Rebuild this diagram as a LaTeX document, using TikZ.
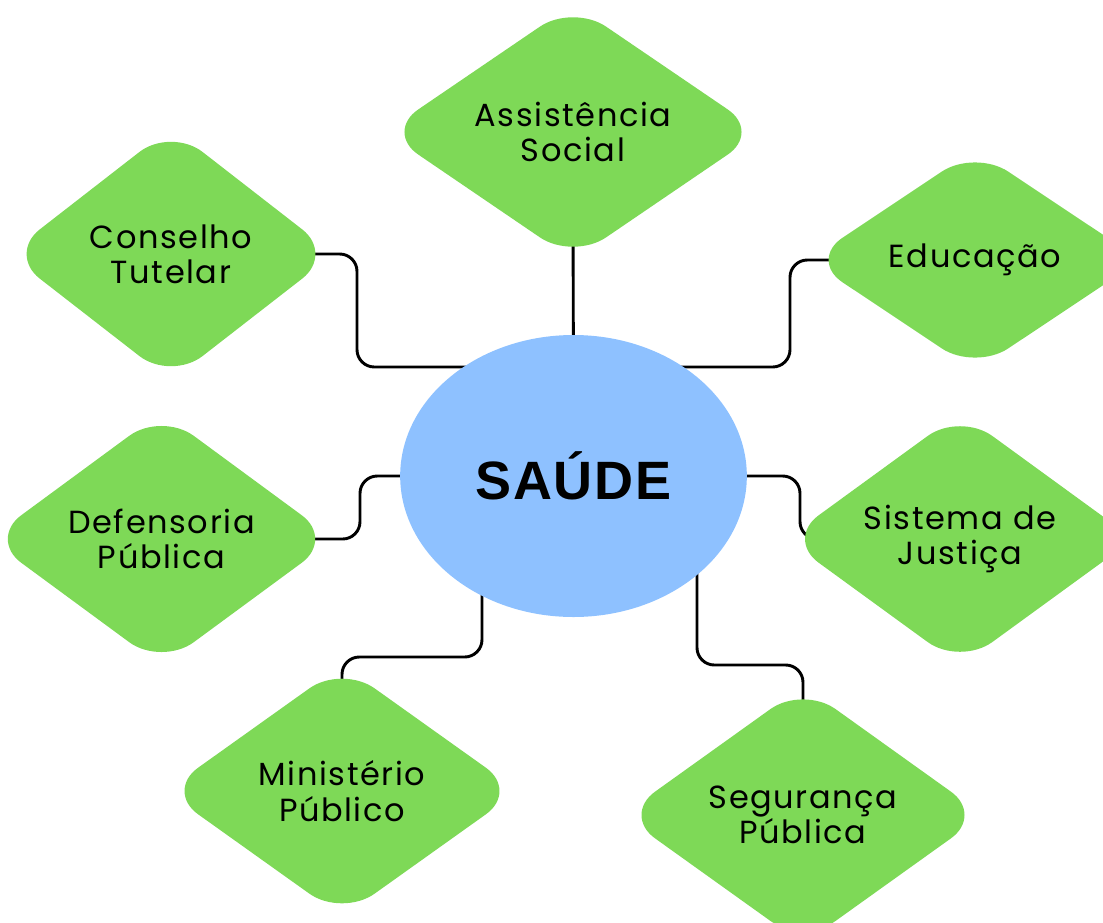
\documentclass[tikz,border=0pt]{standalone}
\usepackage{fontspec}
\setmainfont{Poppins}
\newfontfamily\rotulo{Poppins}[LetterSpace=5]
\newfontfamily\titulo{Liberation Sans}[LetterSpace=3]
\usetikzlibrary{shapes.geometric}
\definecolor{folha}{HTML}{7ED957}
\definecolor{ceu}{HTML}{8EC1FF}
\pgfdeclarelayer{background}
\pgfsetlayers{background,main}
\tikzset{
	area/.style={diamond, aspect=1.45, fill=folha, rounded corners=30pt, inner sep=0pt, align=center, font=\rotulo\fontsize{24}{26.5}\selectfont},
	hub/.style={ellipse, fill=ceu, inner sep=0pt, minimum width=260pt, minimum height=211.5pt, font=\titulo\bfseries\fontsize{40.5}{42}\selectfont},
	elo/.style={line width=2.2pt, rounded corners=13pt, black},
}

\begin{document}
\begin{tikzpicture}[x=0.75pt, y=-0.75pt]
		\useasboundingbox (0,0) rectangle (1103,922);
		% centro
		\node[hub] (saude) at (573.5,476) {SAÚDE};
		% areas
		\node[area, minimum width=282pt, minimum height=192pt] (assist) at (573,132) {Assistência\\Social};
		\node[area, minimum width=244.5pt, minimum height=190pt] (conselho) at (171,254) {Conselho\\Tutelar};
		\node[area, minimum width=249pt, minimum height=166pt] (educ) at (975,260) {Educação};
		\node[area, minimum width=259pt, minimum height=190.5pt] (defens) at (161.5,539) {Defensoria\\Pública};
		\node[area, minimum width=261pt, minimum height=190pt] (sistema) at (960,539) {Sistema de\\Justiça};
		\node[area, minimum width=265pt, minimum height=189pt] (minist) at (342,791) {Ministério\\Público};
		\node[area, minimum width=271pt, minimum height=194pt] (seguranca) at (803,815) {Segurança\\Pública};
		% ligacoes
		\begin{pgfonlayer}{background}
			\draw[elo] (assist.center) -- (saude.center);
			\draw[elo] (conselho.center) -| (357,367) -- (saude.center |- 0,367);
			\draw[elo] (saude.center |- 0,367) -| (790,260) -- (educ.center);
			\draw[elo] (defens.center) -| (360,476) -- (saude.center);
			\draw[elo] (saude.center) -| (800,539) -- (sistema.center);
			\draw[elo] (saude.center -| 482,0) |- (minist.center |- 0,657) -- (minist.center);
			\draw[elo] (saude.center -| 697,0) |- (seguranca.center |- 0,665) -- (seguranca.center);
		\end{pgfonlayer}
	\end{tikzpicture}
\end{document}
